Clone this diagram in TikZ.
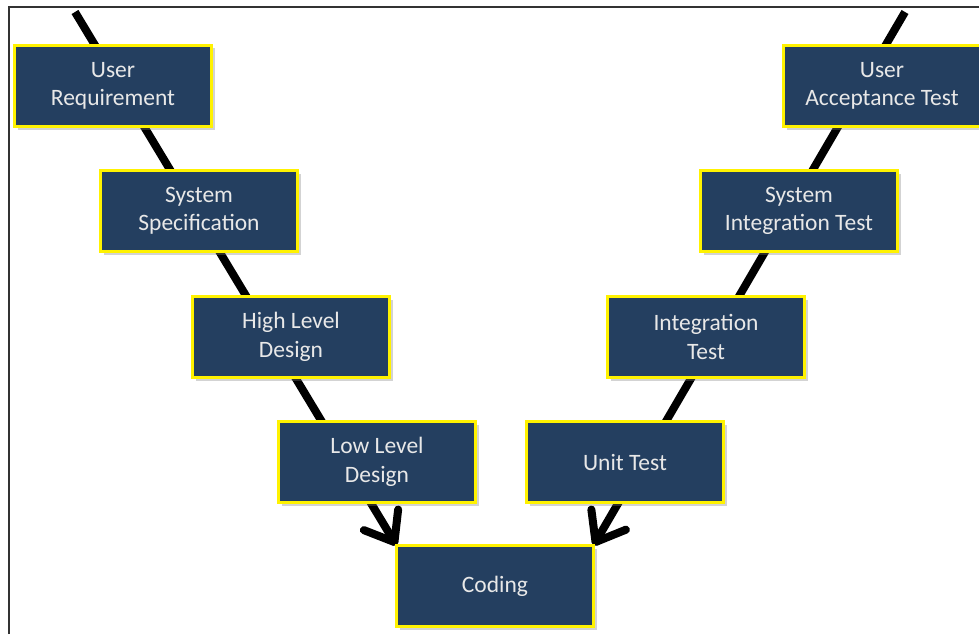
\documentclass[tikz,border=0pt]{standalone}
\usepackage{fontspec}
\setmainfont{Carlito}
\usepackage{xcolor}
\usetikzlibrary{arrows.meta,positioning,shadows,backgrounds}
\definecolor{phasenavy}{HTML}{243F60}
\definecolor{phasetext}{HTML}{E8E8E8}
\begin{document}
\begin{tikzpicture}[x=1pt,y=-1pt]
    \tikzstyle{phase} = [rectangle, draw=yellow, line width=3pt, fill=phasenavy,
        text=phasetext, inner sep=0pt, outer sep=0pt, align=center,
        minimum width=197pt, minimum height=81pt,
        font=\fontsize{23.5}{28.5}\selectfont,
        drop shadow={shadow xshift=3pt, shadow yshift=-3pt, opacity=.35}]
    \tikzstyle{vline} = [line width=8pt, black,
        -{Straight Barb[length=26pt,width=40pt,round]}]
    \useasboundingbox (0,0) rectangle (979,634);
    \draw [line width=1.5pt, black!80] (9,634) -- (9,7) -- (979,7);
    % verification side
    \node (ureq) [phase] at (113,86) {User\\Requirement};
    \node (sspec) [phase, below right=44pt and -111pt of ureq] {System\\Specification};
    \node (hld) [phase, below right=45pt and -105pt of sspec] {High Level\\Design};
    \node (lld) [phase, below right=44pt and -111pt of hld] {Low Level\\Design};
    \node (code) [phase, below right=43pt and -79pt of lld] {Coding};
    % validation side
    \node (utest) [phase, above right=43pt and -67pt of code] {Unit Test};
    \node (itest) [phase, above right=44pt and -116pt of utest] {Integration\\Test};
    \node (sitest) [phase, above right=45pt and -104pt of itest] {System\\Integration Test};
    \node (uat) [phase, above right=44pt and -114pt of sitest] {User\\Acceptance Test};
    \coordinate (ltop) at (75,12);
    \coordinate (rtop) at (905,12);
    \begin{scope}[on background layer]
        \draw [vline] (ltop) -- (code.north west);
        \draw [vline] (rtop) -- (code.north east);
    \end{scope}
\end{tikzpicture}
\end{document}
